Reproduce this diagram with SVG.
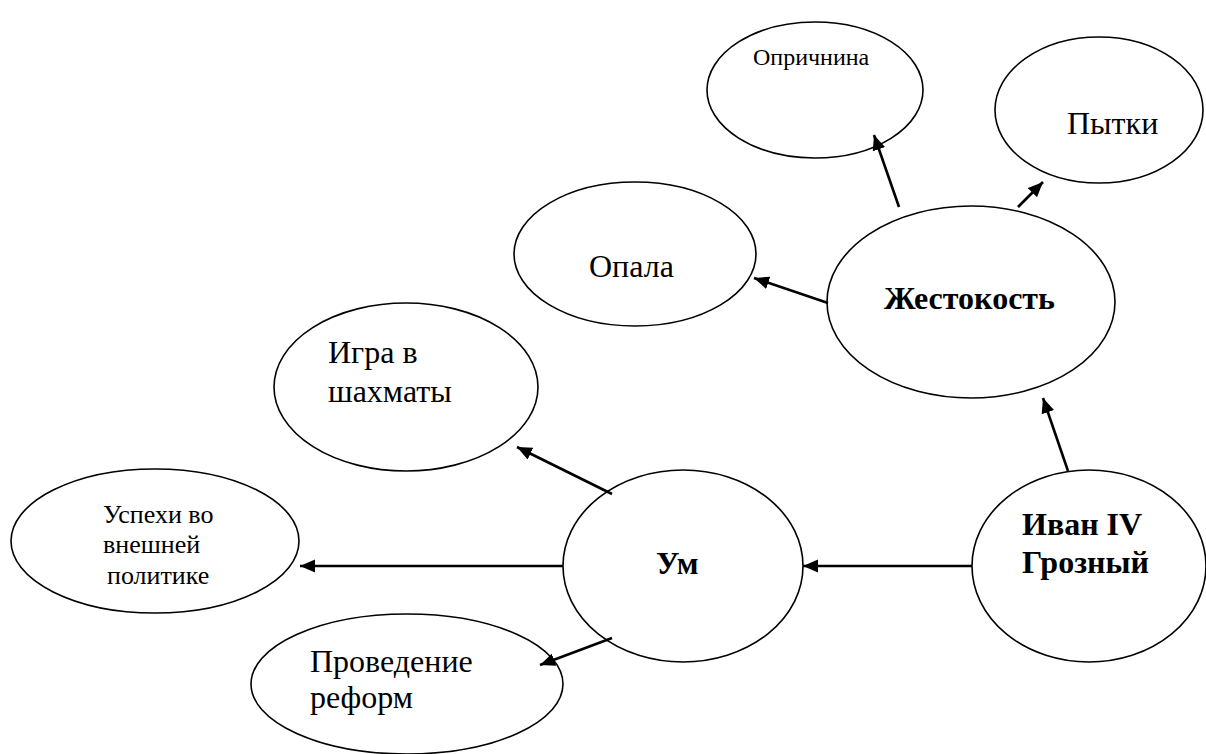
<svg xmlns="http://www.w3.org/2000/svg" width="1206" height="754" viewBox="0 0 1206 754">
<defs>
<style>
.node ellipse{fill:#fff;stroke:#000;stroke-width:1.6}
text{font-family:'Liberation Serif','Times New Roman','DejaVu Serif',serif;fill:#000}
.b{font-weight:bold}
.conn line{stroke:#000;stroke-width:2.6;marker-end:url(#ah)}
</style>
<marker id="ah" markerUnits="userSpaceOnUse" markerWidth="16" markerHeight="14" refX="15" refY="6.5" orient="auto">
<path d="M0,0 L15,6.5 L0,13 z" fill="#000"/>
</marker>
</defs>
<rect width="1206" height="754" fill="#fff"/>
<g font-family="Liberation Serif, Times New Roman, DejaVu Serif, serif">
<g id="n-oprichnina" class="node">
<ellipse cx="815" cy="90" rx="108" ry="68"/>
<text x="753" y="65" font-size="24">Опричнина</text>
</g>
<g id="n-pytki" class="node">
<ellipse cx="1099" cy="110" rx="104" ry="73"/>
<text x="1067" y="134" font-size="32">Пытки</text>
</g>
<g id="n-opala" class="node">
<ellipse cx="635" cy="254" rx="121" ry="72"/>
<text x="589" y="277" font-size="32">Опала</text>
</g>
<g id="n-zhestokost" class="node">
<ellipse cx="971" cy="302" rx="144" ry="96"/>
<text class="b" x="884" y="309" font-size="32">Жестокость</text>
</g>
<g id="n-igra" class="node">
<ellipse cx="406" cy="387" rx="132" ry="84"/>
<text x="328" y="363" font-size="32">Игра в</text>
<text x="328" y="402" font-size="32">шахматы</text>
</g>
<g id="n-uspekhi" class="node">
<ellipse cx="155" cy="541" rx="144" ry="72"/>
<text x="103" y="523" font-size="26">Успехи во</text>
<text x="103" y="553" font-size="26">внешней</text>
<text x="107" y="584" font-size="26">политике</text>
</g>
<g id="n-um" class="node">
<ellipse cx="683" cy="566" rx="120" ry="96"/>
<text class="b" x="656" y="574" font-size="32">Ум</text>
</g>
<g id="n-ivan" class="node">
<ellipse cx="1089" cy="566" rx="117" ry="96"/>
<text class="b" x="1022" y="535" font-size="32">Иван IV</text>
<text class="b" x="1022" y="573" font-size="32">Грозный</text>
</g>
<g id="n-reformy" class="node">
<ellipse cx="407" cy="684" rx="156" ry="70"/>
<text x="310" y="672" font-size="32">Проведение</text>
<text x="310" y="708" font-size="32">реформ</text>
</g>
</g>
<g id="connectors" class="conn">
<line x1="972" y1="566" x2="803" y2="566"/>
<line x1="563" y1="566" x2="300" y2="566"/>
<line x1="612" y1="494" x2="517" y2="447"/>
<line x1="612" y1="638" x2="540" y2="665"/>
<line x1="1068" y1="471" x2="1043" y2="398"/>
<line x1="828" y1="303" x2="754" y2="278"/>
<line x1="899" y1="207" x2="874" y2="135"/>
<line x1="1018" y1="207" x2="1043" y2="182"/>
</g>
</svg>
